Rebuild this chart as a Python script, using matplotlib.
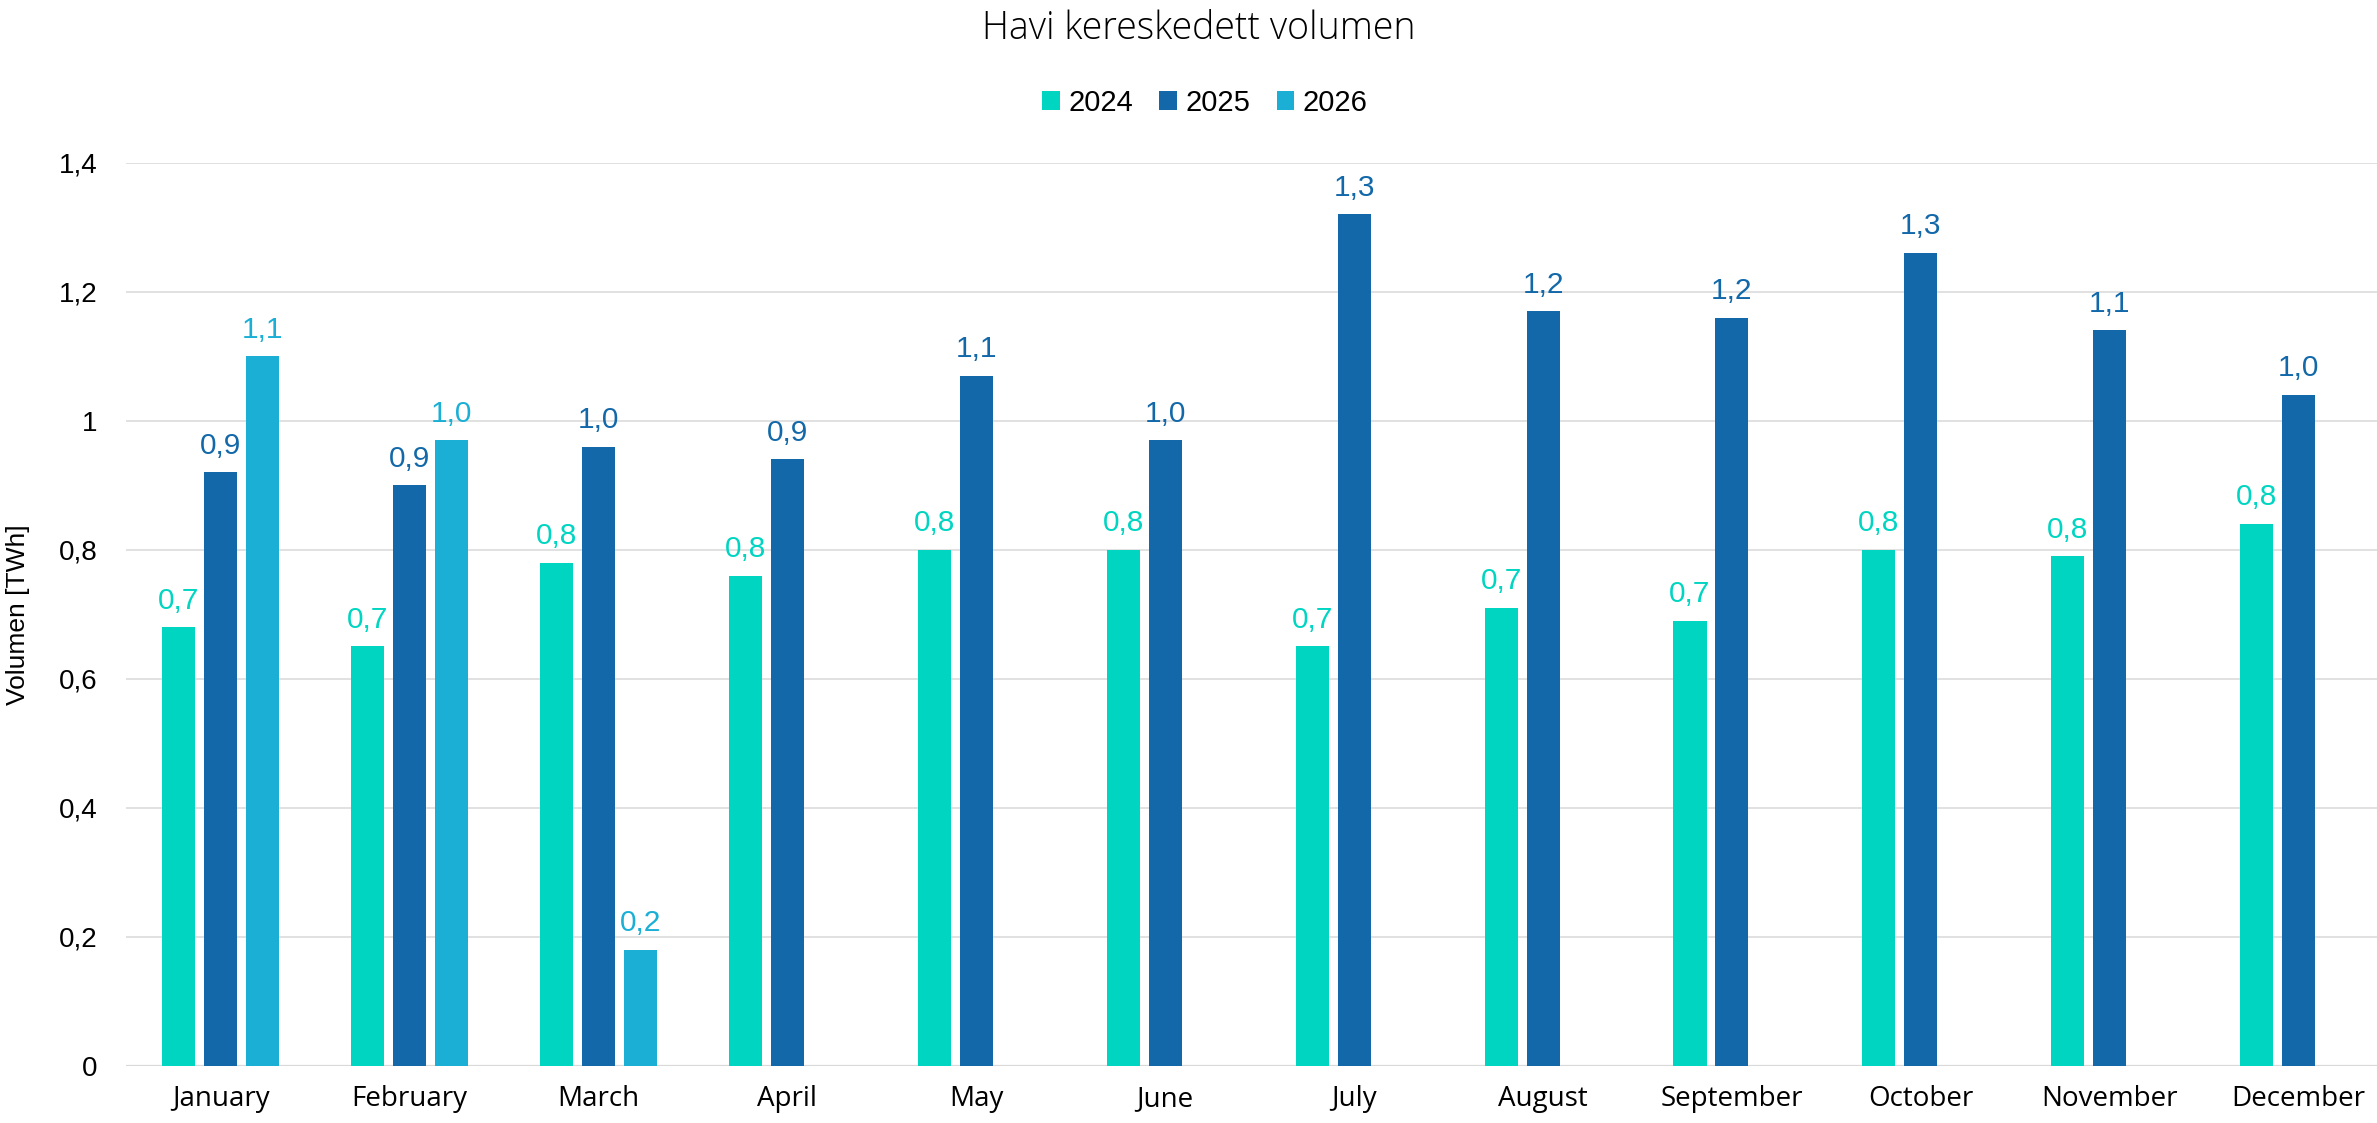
import matplotlib
matplotlib.use('Agg')
import matplotlib.pyplot as plt
import numpy as np
from matplotlib.ticker import FuncFormatter
from matplotlib.patches import Patch


months = ['January', 'February', 'March', 'April', 'May', 'June',
          'July', 'August', 'September', 'October', 'November', 'December']
vol_2024 = [0.68, 0.65, 0.78, 0.76, 0.80, 0.80, 0.65, 0.71, 0.69, 0.80, 0.79, 0.84]
vol_2025 = [0.92, 0.90, 0.96, 0.94, 1.07, 0.97, 1.32, 1.17, 1.16, 1.26, 1.14, 1.04]
vol_2026 = [1.10, 0.97, 0.18]   # only first months so far
years = ['2024', '2025', '2026']
colors = ['#00D5C2', '#1268A8', '#1BAFD6']

W, H = 2377, 1123
fig = plt.figure(figsize=(W / 100, H / 100), dpi=100)
# axes runs a bit past the right edge, like the original export
ax = fig.add_axes([126.3 / W, 1 - 1065.7 / H, 2266.8 / W, (1065.7 - 162.7) / H])

x = np.arange(len(months))
bw, step = 0.175, 0.222
series = [vol_2024, vol_2025, vol_2026]
for i, (vals, col) in enumerate(zip(series, colors)):
    xs = x[:len(vals)] + (i - 1) * step
    bars = ax.bar(xs, vals, width=bw, color=col, zorder=3)
    ax.bar_label(bars, labels=[f'{v:.1f}'.replace('.', ',') for v in vals],
                 padding=9, color=col, fontsize=21.5, family='Liberation Sans')

ax.set_xlim(-0.5, len(months) - 0.5)
ax.set_ylim(0, 1.4)
ax.set_yticks(np.arange(0, 1.41, 0.2))
ax.yaxis.set_major_formatter(FuncFormatter(lambda v, p: f'{round(v, 1):g}'.replace('.', ',')))
ax.set_xticks(x)
ax.set_xticklabels(months, fontsize=20, family='Open Sans')
for lbl in ax.get_yticklabels():
    lbl.set_fontsize(20)
    lbl.set_family('Liberation Sans')
ax.tick_params(axis='both', length=0)
ax.tick_params(axis='y', pad=21)
ax.tick_params(axis='x', pad=14)

ax.grid(axis='y', color='#d9d9d9', linewidth=1.1, zorder=0)
ax.axhline(0, color='#d9d9d9', linewidth=1.6, zorder=2)
for s in ax.spines.values():
    s.set_visible(False)

ax.set_ylabel('Volumen [TWh]', fontsize=19,
              family=['Liberation Sans Narrow', 'Liberation Sans'], labelpad=8)
ax.yaxis.set_label_coords(30 / 2266.8 - 126.3 / 2266.8, 0.5)

fig.text(1199 / W, 1 - 29 / H, 'Havi kereskedett volumen', ha='center', va='center',
         fontsize=27, family='Open Sans', weight='light')

handles = [Patch(facecolor=c, label=y) for c, y in zip(colors, years)]
fig.legend(handles=handles, loc='center', bbox_to_anchor=(1205 / W, 1 - 103 / H),
           ncol=3, frameon=False, prop={'family': 'Liberation Sans', 'size': 21},
           handlelength=0.6, handleheight=0.6, handletextpad=0.3, columnspacing=0.9)

fig.savefig('out.png', dpi=100)
